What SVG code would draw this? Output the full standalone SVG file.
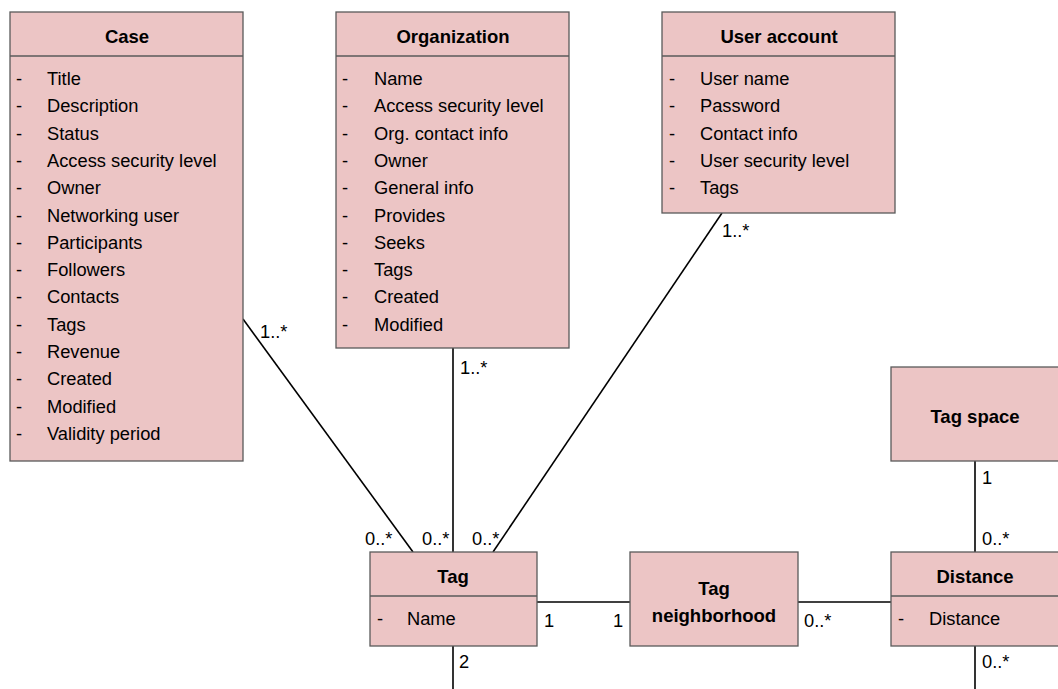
<svg xmlns="http://www.w3.org/2000/svg" width="1058" height="689" viewBox="0 0 1058 689">
  <style>
    .box { fill: #ecc5c5; stroke: #5a5a5a; stroke-width: 1.3; }
    .div { stroke: #5a5a5a; stroke-width: 1.3; fill: none; }
    .title { font-family: "Liberation Sans", Arial, sans-serif; font-size: 18.5px; font-weight: bold; fill: #000; text-anchor: middle; }
    .attr { font-family: "Liberation Sans", Arial, sans-serif; font-size: 18.3px; fill: #000; }
    .mult { font-family: "Liberation Sans", Arial, sans-serif; font-size: 18.3px; fill: #000; }
    .conn { stroke: #000; stroke-width: 1.6; fill: none; }
  </style>
  <rect width="1058" height="689" fill="#fff"/>

  <!-- associations -->
  <g id="connectors">
    <line class="conn" x1="243" y1="319" x2="413" y2="552"/>
    <line class="conn" x1="453" y1="348" x2="453" y2="552"/>
    <line class="conn" x1="722" y1="213" x2="493" y2="552"/>
    <line class="conn" x1="537" y1="602" x2="630" y2="602"/>
    <line class="conn" x1="798" y1="602" x2="891" y2="602"/>
    <line class="conn" x1="975" y1="461" x2="975" y2="552"/>
    <line class="conn" x1="453" y1="646" x2="453" y2="689"/>
    <line class="conn" x1="975" y1="646" x2="975" y2="689"/>

    <text class="mult" x="260" y="338">1..*</text>
    <text class="mult" x="460" y="374">1..*</text>
    <text class="mult" x="722" y="237">1..*</text>
    <text class="mult" x="365" y="545">0..*</text>
    <text class="mult" x="422" y="545">0..*</text>
    <text class="mult" x="472" y="545">0..*</text>
    <text class="mult" x="544" y="627">1</text>
    <text class="mult" x="459" y="668">2</text>
    <text class="mult" x="613" y="627">1</text>
    <text class="mult" x="804" y="627">0..*</text>
    <text class="mult" x="982" y="484">1</text>
    <text class="mult" x="982" y="545">0..*</text>
    <text class="mult" x="982" y="668">0..*</text>
  </g>

  <g id="case">
    <rect class="box" x="10" y="12" width="233" height="449"/>
    <line class="div" x1="10" y1="56" x2="243" y2="56"/>
    <text class="title" x="127" y="43">Case</text>
    <g class="attr">
      <text x="16" y="85">-</text><text x="47" y="85">Title</text>
      <text x="16" y="112.3">-</text><text x="47" y="112.3">Description</text>
      <text x="16" y="139.6">-</text><text x="47" y="139.6">Status</text>
      <text x="16" y="166.9">-</text><text x="47" y="166.9">Access security level</text>
      <text x="16" y="194.2">-</text><text x="47" y="194.2">Owner</text>
      <text x="16" y="221.5">-</text><text x="47" y="221.5">Networking user</text>
      <text x="16" y="248.8">-</text><text x="47" y="248.8">Participants</text>
      <text x="16" y="276.1">-</text><text x="47" y="276.1">Followers</text>
      <text x="16" y="303.4">-</text><text x="47" y="303.4">Contacts</text>
      <text x="16" y="330.7">-</text><text x="47" y="330.7">Tags</text>
      <text x="16" y="358">-</text><text x="47" y="358">Revenue</text>
      <text x="16" y="385.3">-</text><text x="47" y="385.3">Created</text>
      <text x="16" y="412.6">-</text><text x="47" y="412.6">Modified</text>
      <text x="16" y="439.9">-</text><text x="47" y="439.9">Validity period</text>
    </g>
  </g>

  <g id="organization">
    <rect class="box" x="336" y="12" width="233" height="336"/>
    <line class="div" x1="336" y1="56" x2="569" y2="56"/>
    <text class="title" x="453" y="43">Organization</text>
    <g class="attr">
      <text x="342" y="85">-</text><text x="374" y="85">Name</text>
      <text x="342" y="112.3">-</text><text x="374" y="112.3">Access security level</text>
      <text x="342" y="139.6">-</text><text x="374" y="139.6">Org. contact info</text>
      <text x="342" y="166.9">-</text><text x="374" y="166.9">Owner</text>
      <text x="342" y="194.2">-</text><text x="374" y="194.2">General info</text>
      <text x="342" y="221.5">-</text><text x="374" y="221.5">Provides</text>
      <text x="342" y="248.8">-</text><text x="374" y="248.8">Seeks</text>
      <text x="342" y="276.1">-</text><text x="374" y="276.1">Tags</text>
      <text x="342" y="303.4">-</text><text x="374" y="303.4">Created</text>
      <text x="342" y="330.7">-</text><text x="374" y="330.7">Modified</text>
    </g>
  </g>

  <g id="user-account">
    <rect class="box" x="662" y="12" width="233" height="201"/>
    <line class="div" x1="662" y1="56" x2="895" y2="56"/>
    <text class="title" x="779" y="43">User account</text>
    <g class="attr">
      <text x="669" y="85">-</text><text x="700" y="85">User name</text>
      <text x="669" y="112.3">-</text><text x="700" y="112.3">Password</text>
      <text x="669" y="139.6">-</text><text x="700" y="139.6">Contact info</text>
      <text x="669" y="166.9">-</text><text x="700" y="166.9">User security level</text>
      <text x="669" y="194.2">-</text><text x="700" y="194.2">Tags</text>
    </g>
  </g>

  <g id="tag-space">
    <rect class="box" x="891" y="367" width="175" height="94"/>
    <text class="title" x="975" y="423">Tag space</text>
  </g>

  <g id="tag">
    <rect class="box" x="370" y="552" width="167" height="94"/>
    <line class="div" x1="370" y1="596" x2="537" y2="596"/>
    <text class="title" x="453" y="583">Tag</text>
    <text class="attr" x="377" y="625">-</text>
    <text class="attr" x="407" y="625">Name</text>
  </g>

  <g id="tag-neighborhood">
    <rect class="box" x="630" y="552" width="168" height="94"/>
    <text class="title" x="714" y="595">Tag</text>
    <text class="title" x="714" y="621.5">neighborhood</text>
  </g>

  <g id="distance">
    <rect class="box" x="891" y="552" width="175" height="94"/>
    <line class="div" x1="891" y1="596" x2="1066" y2="596"/>
    <text class="title" x="975" y="583">Distance</text>
    <text class="attr" x="898" y="625">-</text>
    <text class="attr" x="929" y="625">Distance</text>
  </g>
</svg>
